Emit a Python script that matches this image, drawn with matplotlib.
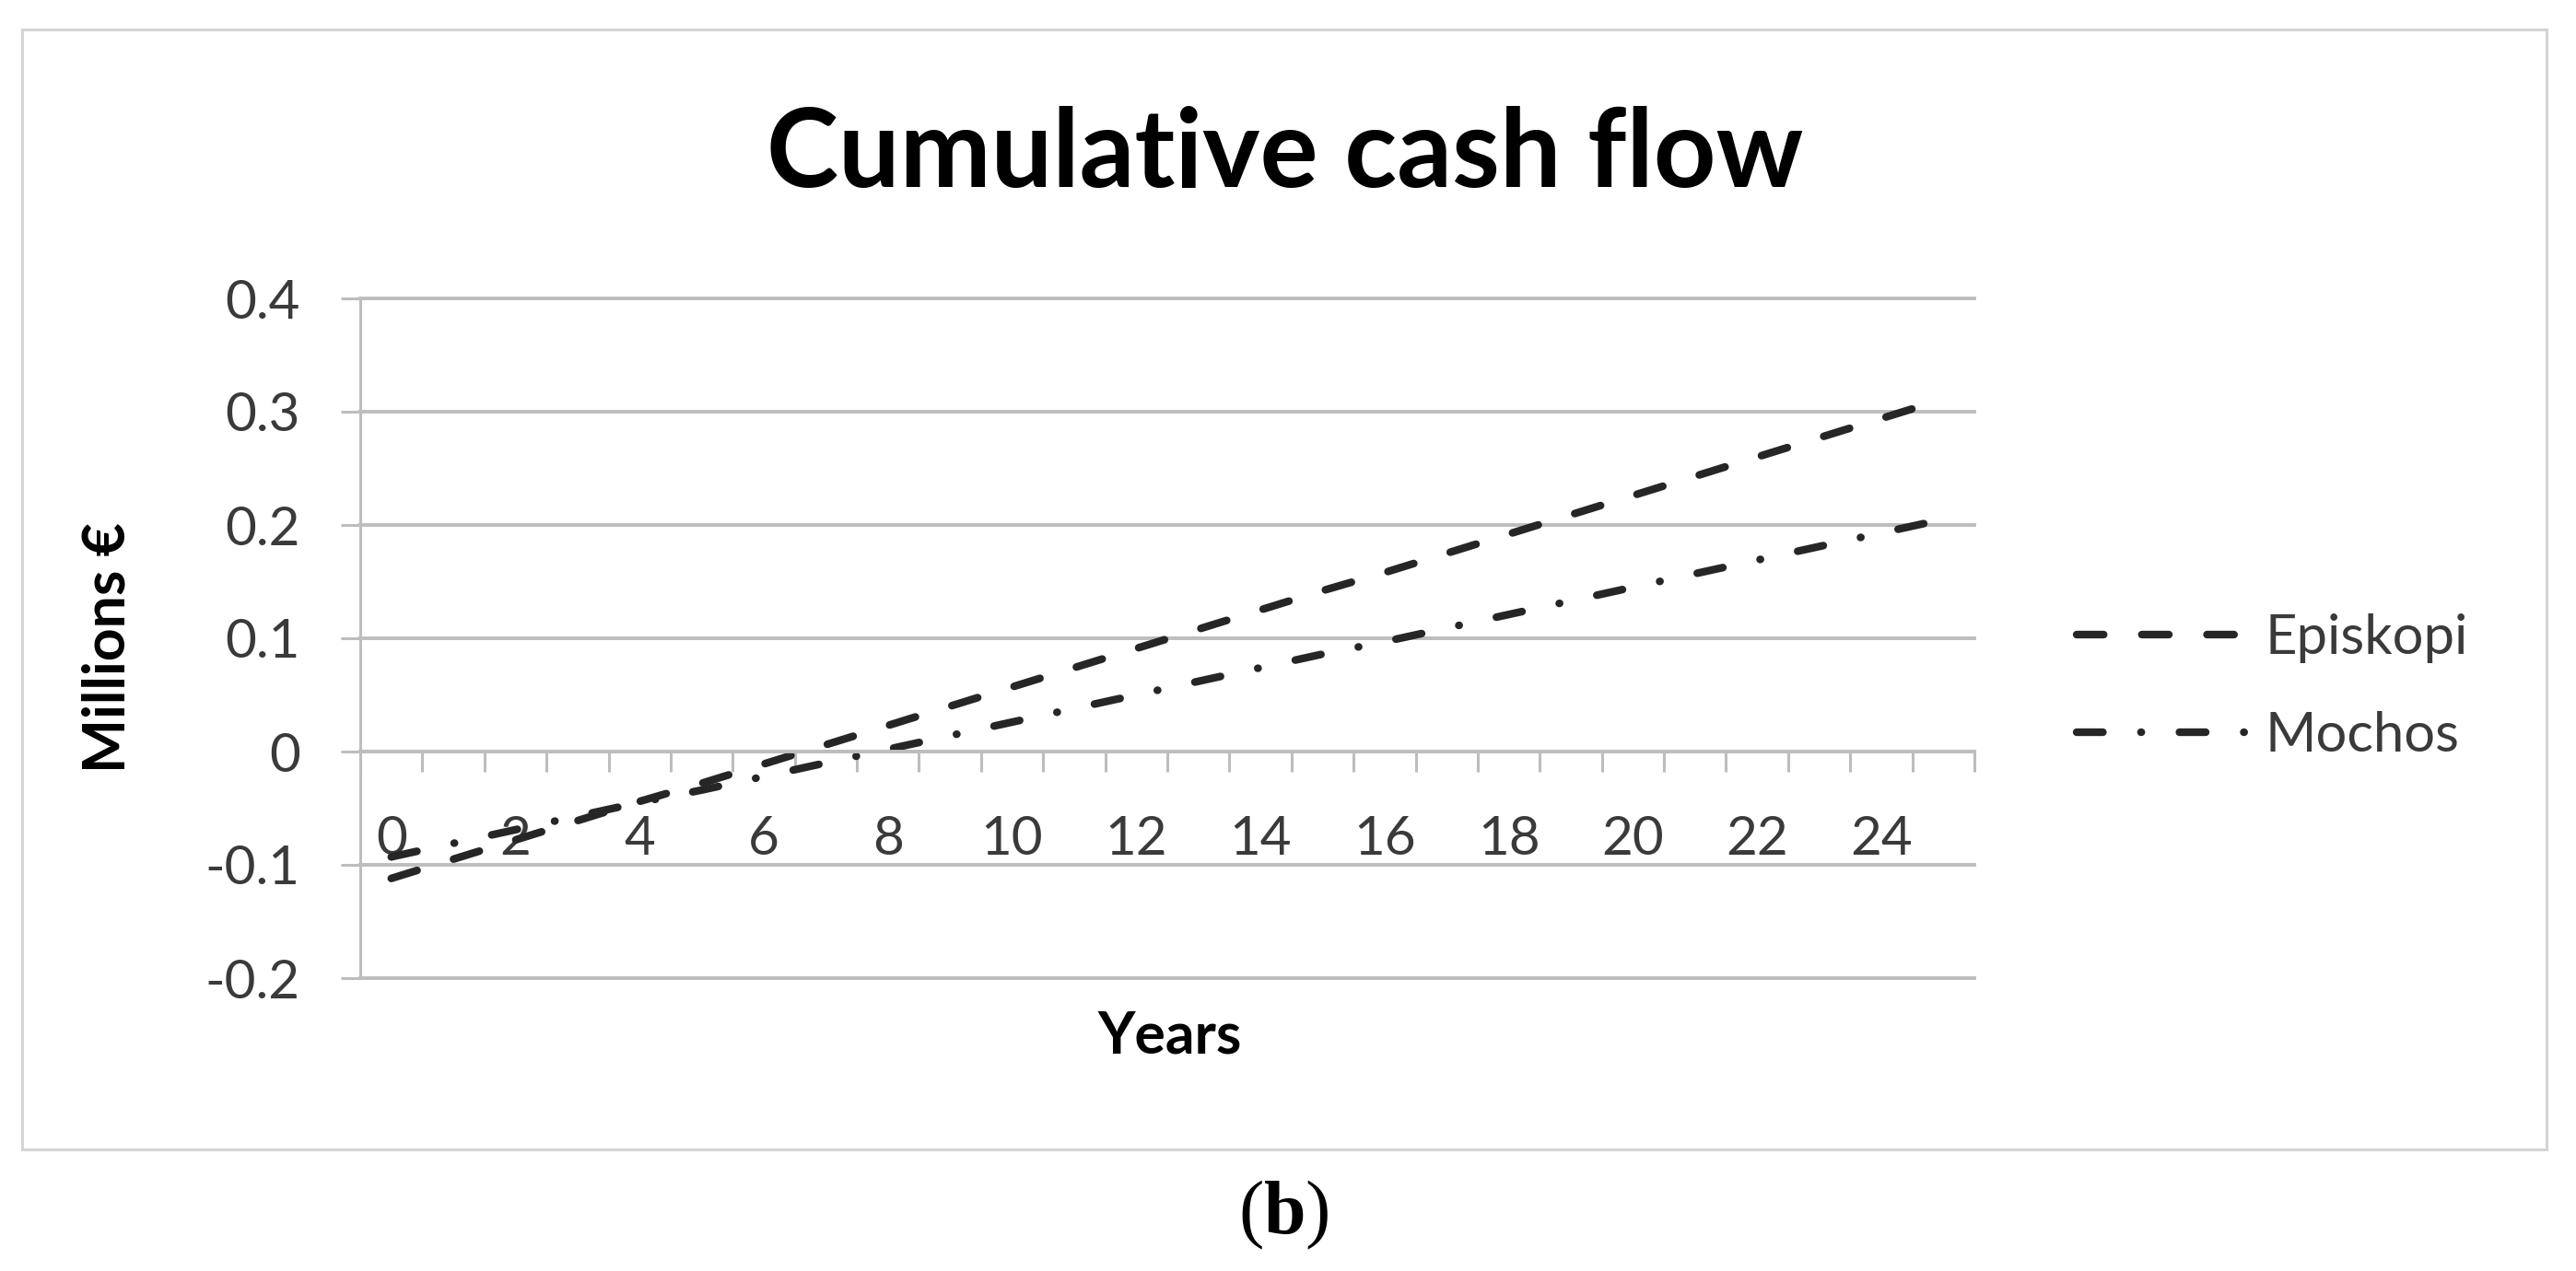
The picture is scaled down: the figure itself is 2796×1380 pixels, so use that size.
import matplotlib
matplotlib.use("Agg")
import matplotlib.pyplot as plt
from matplotlib.patches import Rectangle

years = list(range(26))
episkopi = [-0.112, -0.095, -0.078, -0.061, -0.044, -0.028, -0.011, 0.006, 0.023, 0.040,
            0.057, 0.074, 0.091, 0.108, 0.125, 0.142, 0.158, 0.175, 0.192, 0.209,
            0.226, 0.243, 0.260, 0.277, 0.294, 0.311]
mochos = [-0.093, -0.081, -0.069, -0.057, -0.045, -0.034, -0.022, -0.010, 0.002, 0.014,
          0.026, 0.038, 0.050, 0.062, 0.074, 0.086, 0.097, 0.109, 0.121, 0.133,
          0.145, 0.157, 0.169, 0.181, 0.193, 0.205]
xlabels = [str(y) for y in range(0, 25, 2)]
yticks = [-0.2, -0.1, 0, 0.1, 0.2, 0.3, 0.4]
ylabels = ["-0.2", "-0.1", "0", "0.1", "0.2", "0.3", "0.4"]

plt.rcParams['font.family'] = ['Lato', 'DejaVu Sans']
plt.rcParams['mathtext.fontset'] = 'custom'
plt.rcParams['mathtext.rm'] = 'Liberation Serif'
plt.rcParams['mathtext.bf'] = 'Liberation Serif:bold'

W, H = 2796, 1380
fig = plt.figure(figsize=(W / 100, H / 100), dpi=100)

def fx(px):
    return px / W

def fy(py):
    return 1 - py / H

grid_c = '#bdbdbd'
line_c = '#262626'
text_c = '#3a3a3a'

# outer chart frame
fig.patches.append(Rectangle((fx(24), fy(1248)), fx(2764) - fx(24), fy(32) - fy(1248),
                             transform=fig.transFigure, fill=False, ec='#d4d4d4', lw=2.2))

ax = fig.add_axes([fx(391), fy(1062), fx(2143) - fx(391), fy(324) - fy(1062)])

l1, = ax.plot(years, episkopi, color=line_c, lw=6, ls=(0, (3.52, 4.97)),
              dash_capstyle='round', label='Episkopi')
l2, = ax.plot(years, mochos, color=line_c, lw=6, ls=(0, (3.42, 4.96, 0.05, 4.96)),
              dash_capstyle='round', label='Mochos')

ax.set_xlim(-0.5, 25.5)
ax.set_ylim(-0.2, 0.4)

ax.set_yticks(yticks, ylabels)
ax.yaxis.grid(True, color=grid_c, lw=2.8)
for gl in ax.get_ygridlines():
    gl.set_clip_on(False)
ax.tick_params(axis='y', direction='out', length=15, width=2.2, color=grid_c,
               pad=32, labelsize=42, labelcolor=text_c)

# category boundaries as major ticks, labels on minor ticks
ax.set_xticks([i - 0.5 for i in range(27)], [''] * 27)
ax.set_xticks(list(range(0, 25, 2)), xlabels, minor=True)
ax.tick_params(axis='x', which='major', direction='out', length=16, width=2.2, color=grid_c)
ax.tick_params(axis='x', which='minor', length=0, pad=50, labelsize=42, labelcolor=text_c)

ax.spines['top'].set_visible(False)
ax.spines['right'].set_visible(False)
ax.spines['bottom'].set_position(('data', 0))
ax.spines['bottom'].set_color(grid_c)
ax.spines['bottom'].set_linewidth(2.8)
ax.spines['left'].set_color(grid_c)
ax.spines['left'].set_linewidth(2.2)

fig.text(fx(1395), fy(203), 'Cumulative cash flow', ha='center', va='baseline',
         fontsize=85, fontweight='bold', color='black')
fig.text(fx(117), fy(703), 'Millions €', ha='center', va='center', rotation=90,
         fontsize=45, fontweight='bold', color='black')
fig.text(fx(1270), fy(1144), 'Years', ha='center', va='baseline',
         fontsize=45, fontweight='bold', color='black')
fig.text(fx(1393), fy(1339), r'($\mathbf{b}$)', ha='center', va='baseline',
         fontsize=59, family='Liberation Serif', color='black')

fig.legend(handles=[l1, l2], loc='center left', bbox_to_anchor=(fx(2254), fy(746)),
           frameon=False, fontsize=43, borderpad=0, borderaxespad=0,
           handlelength=3.05, handletextpad=0.37, labelspacing=0.86, labelcolor=text_c)

fig.savefig('out.png', dpi=100, facecolor='white')
